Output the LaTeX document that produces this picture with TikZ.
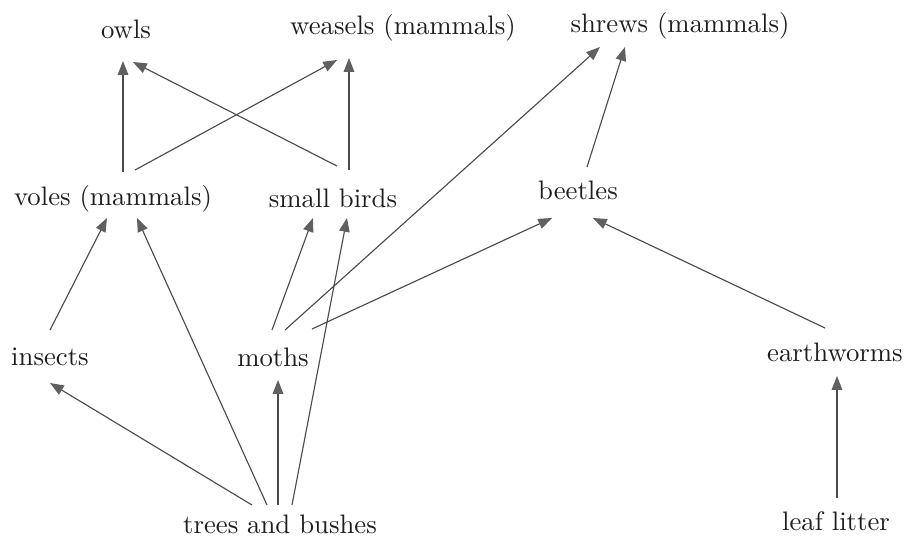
\documentclass[tikz,border=0pt]{standalone}
\usetikzlibrary{arrows.meta,calc}
\definecolor{linecol}{HTML}{4A4A4A}
\definecolor{tipcol}{HTML}{606060}
\definecolor{txtcol}{HTML}{1E1E1E}
\begin{document}
\begin{tikzpicture}[x=0.4pt,y=-0.4pt,
  lbl/.style={inner sep=0pt,text=txtcol,font=\fontsize{10.7}{13}\selectfont},
  feed/.style={draw=linecol,line width=0.45pt,-{Triangle[length=5.5pt,width=4.2pt,fill=tipcol,color=tipcol]}}]
\useasboundingbox (0,0) rectangle (909,543);
\node[lbl] (owls) at (126,29) {owls};
\node[lbl] (weasels) at (403,28) {weasels (mammals)};
\node[lbl] (shrews) at (680,26) {shrews (mammals)};
\node[lbl] (voles) at (113,199) {voles (mammals)};
\node[lbl] (birds) at (333,198) {small birds};
\node[lbl] (beetles) at (578,190) {beetles};
\node[lbl] (insects) at (50,357) {insects};
\node[lbl] (moths) at (273,357) {moths};
\node[lbl] (worms) at (835,352) {earthworms};
\node[lbl] (trees) at (280,524) {trees and bushes};
\node[lbl] (litter) at (836,521) {leaf litter};

\draw[feed] ($(voles)+(10,-27)$) -- ($(owls)+(-3,32)$);
\draw[feed] ($(birds)+(4,-32)$) -- ($(owls)+(7,33)$);
\draw[feed] ($(voles)+(22,-29)$) -- ($(weasels)+(-66,32)$);
\draw[feed] ($(birds)+(16,-28)$) -- ($(weasels)+(-54,30)$);
\draw[feed] ($(moths)+(12,-27)$) -- ($(shrews)+(-80,21)$);
\draw[feed] ($(beetles)+(9,-23)$) -- ($(shrews)+(-55,21)$);
\draw[feed] ($(moths)+(39,-28)$) -- ($(beetles)+(-26,28)$);
\draw[feed] ($(worms)+(-10,-24)$) -- ($(beetles)+(15,28)$);
\draw[feed] ($(insects)+(0,-27)$) -- ($(voles)+(-6,19)$);
\draw[feed] ($(trees)+(-13,-19)$) -- ($(voles)+(24,19)$);
\draw[feed] ($(moths)+(-1,-27)$) -- ($(birds)+(-20,20)$);
\draw[feed] ($(trees)+(12,-19)$) -- ($(birds)+(14,20)$);
\draw[feed] ($(trees)+(-2,-19)$) -- ($(moths)+(5,23)$);
\draw[feed] ($(trees)+(-28,-19)$) -- ($(insects)+(0,26)$);
\draw[feed] ($(litter)+(1,-23)$) -- ($(worms)+(2,24)$);
\end{tikzpicture}
\end{document}
